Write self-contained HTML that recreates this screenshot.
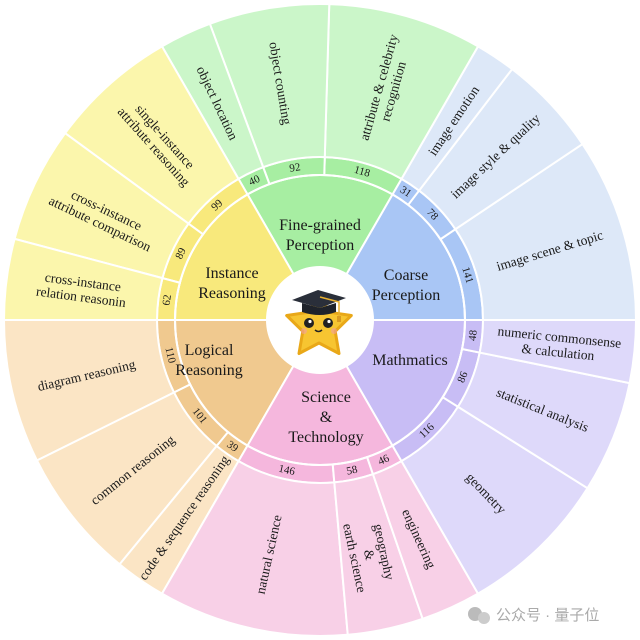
<!DOCTYPE html>
<html><head><meta charset="utf-8"><style>
html,body{margin:0;padding:0;background:#fff;width:640px;height:640px;overflow:hidden}
svg{display:block}
text{font-family:"Liberation Serif",serif;fill:#1a1a1a}
</style></head><body>
<svg id="s" width="640" height="640" viewBox="0 0 640 640" xmlns="http://www.w3.org/2000/svg"></svg>
<script>
const cx=320,cy=320,R0=53,R1=145,R2=163,R3=316;
const sectors=[
 {s:0,name:["Coarse","Perception"],lp:[406,275],ci:"#a9c6f5",cn:"#a9c6f5",co:"#dde8f8",items:[[141,["image scene & topic"]],[78,["image style & quality"]],[31,["image emotion"]]]},
 {s:60,name:["Fine-grained","Perception"],lp:[320,225],ci:"#a7eea2",cn:"#a7eea2",co:"#cbf6c9",items:[[118,["attribute & celebrity","recognition"]],[92,["object counting"]],[40,["object location"]]]},
 {s:120,name:["Instance","Reasoning"],lp:[232,273],ci:"#f8e97c",cn:"#f8e97c",co:"#fbf6ac",items:[[99,["single-instance","attribute reasoning"]],[89,["cross-instance","attribute comparison"]],[62,["cross-instance","relation reasonin"]]]},
 {s:180,name:["Logical","Reasoning"],lp:[209,350],ci:"#f0c98f",cn:"#f0c98f",co:"#fbe5c5",items:[[110,["diagram reasoning"]],[101,["common reasoning"]],[39,["code & sequence reasoning"]]]},
 {s:240,name:["Science","&","Technology"],lp:[326,397],ci:"#f5b7dd",cn:"#f5b7dd",co:"#f8d0e7",items:[[146,["natural science"]],[58,["geography","&","earth science"]],[46,["engineering"]]]},
 {s:300,name:["Mathmatics"],lp:[410,360],ci:"#c8bdf5",cn:"#c8bdf5",co:"#ded9fa",items:[[116,["geometry"]],[86,["statistical analysis"]],[48,["numeric commonsense","& calculation"]]]}
];
function P(r,a){const t=a*Math.PI/180;return [cx+r*Math.cos(t),cy-r*Math.sin(t)];}
function wedge(r1,r2,a1,a2,fill){
 const p1=P(r2,a1),p2=P(r2,a2),p3=P(r1,a2),p4=P(r1,a1);const lg=(a2-a1)>180?1:0;
 return `<path d="M${p1[0]},${p1[1]} A${r2},${r2} 0 ${lg} 0 ${p2[0]},${p2[1]} L${p3[0]},${p3[1]} A${r1},${r1} 0 ${lg} 1 ${p4[0]},${p4[1]}Z" fill="${fill}" stroke="#fff" stroke-width="2"/>`;
}
function norm(r){while(r>=90)r-=180;while(r<-90)r+=180;return r;}
let h="";
let txt="";
for(const S of sectors){
 h+=wedge(R0,R1,S.s,S.s+60,S.ci);
 const tot=S.items.reduce((a,b)=>a+b[0],0);let a=S.s;
 for(const [n,lab] of S.items){
  const w=n/tot*60,m=a+w/2;
  h+=wedge(R1,R2,a,a+w,S.cn);
  h+=wedge(R2,R3,a,a+w,S.co);
  const np=P(154,m);const nr=norm(-m+90);
  txt+=`<text x="${np[0]}" y="${np[1]}" font-size="11" text-anchor="middle" dominant-baseline="central" transform="rotate(${nr} ${np[0]} ${np[1]})">${n}</text>`;
  const lp=P(240,m);const lr=norm(-m);const k=lab.length;
  txt+=`<text font-size="13.5" text-anchor="middle" dominant-baseline="central" transform="translate(${lp[0]} ${lp[1]}) rotate(${lr})">`;
  lab.forEach((l,i)=>{txt+=`<tspan x="0" y="${(i-(k-1)/2)*15}">${l.replace(/&/g,'&amp;')}</tspan>`});
  txt+=`</text>`;
  a+=w;
 }
 const k=S.name.length;
 txt+=`<text font-size="16" text-anchor="middle" dominant-baseline="central">`;
 S.name.forEach((l,i)=>{txt+=`<tspan x="${S.lp[0]}" y="${S.lp[1]+i*20}">${l.replace(/&/g,'&amp;')}</tspan>`});
 txt+=`</text>`;
}
h+=`<circle cx="${cx}" cy="${cy}" r="${R1}" fill="none" stroke="#fff" stroke-width="2"/>`;
h+=`<circle cx="${cx}" cy="${cy}" r="${R0}" fill="#fff"/>`;
// star mascot
function star(cx,cy,ro,ri){let p=[];for(let i=0;i<10;i++){const r=i%2?ri:ro;const t=(-90+i*36)*Math.PI/180;p.push((cx+r*Math.cos(t)).toFixed(1)+","+(cy+r*Math.sin(t)).toFixed(1));}return p.join(" ");}
h+=`<polygon points="${star(319,326,34,17)}" fill="#f7c531" stroke="#e9a818" stroke-width="3" stroke-linejoin="round"/>`;
h+=`<circle cx="309" cy="323" r="5" fill="#222"/><circle cx="328" cy="323" r="5" fill="#222"/><circle cx="310" cy="321.5" r="1.6" fill="#fff"/><circle cx="329" cy="321.5" r="1.6" fill="#fff"/>`;
h+=`<path d="M315,330 Q318.5,333 322,330" stroke="#222" stroke-width="1.5" fill="none"/><circle cx="304" cy="331" r="3" fill="#f3a0a0" opacity=".6"/><circle cx="334" cy="331" r="3" fill="#f3a0a0" opacity=".6"/>`;
h+=`<polygon points="292,300 318,290 346,298 320,308" fill="#2a2f3a"/><path d="M302,303 L302,312 Q320,318 336,312 L336,303 L320,308Z" fill="#1f232b"/><path d="M320,297 L339,302 L339,318" stroke="#e8b030" stroke-width="1.5" fill="none"/><rect x="337" y="316" width="4" height="6" fill="#d99a20"/>`;
// watermark
h+=`<circle cx="475" cy="614" r="7" fill="#bbb"/><circle cx="484" cy="618" r="6" fill="#ccc"/>`;
txt+=`<text x="496" y="620" font-size="15" style="font-family:'Liberation Sans','Noto Sans CJK SC',sans-serif;fill:#aaa">公众号 · 量子位</text>`;
document.getElementById("s").innerHTML=h+txt;
</script>
</body></html>
